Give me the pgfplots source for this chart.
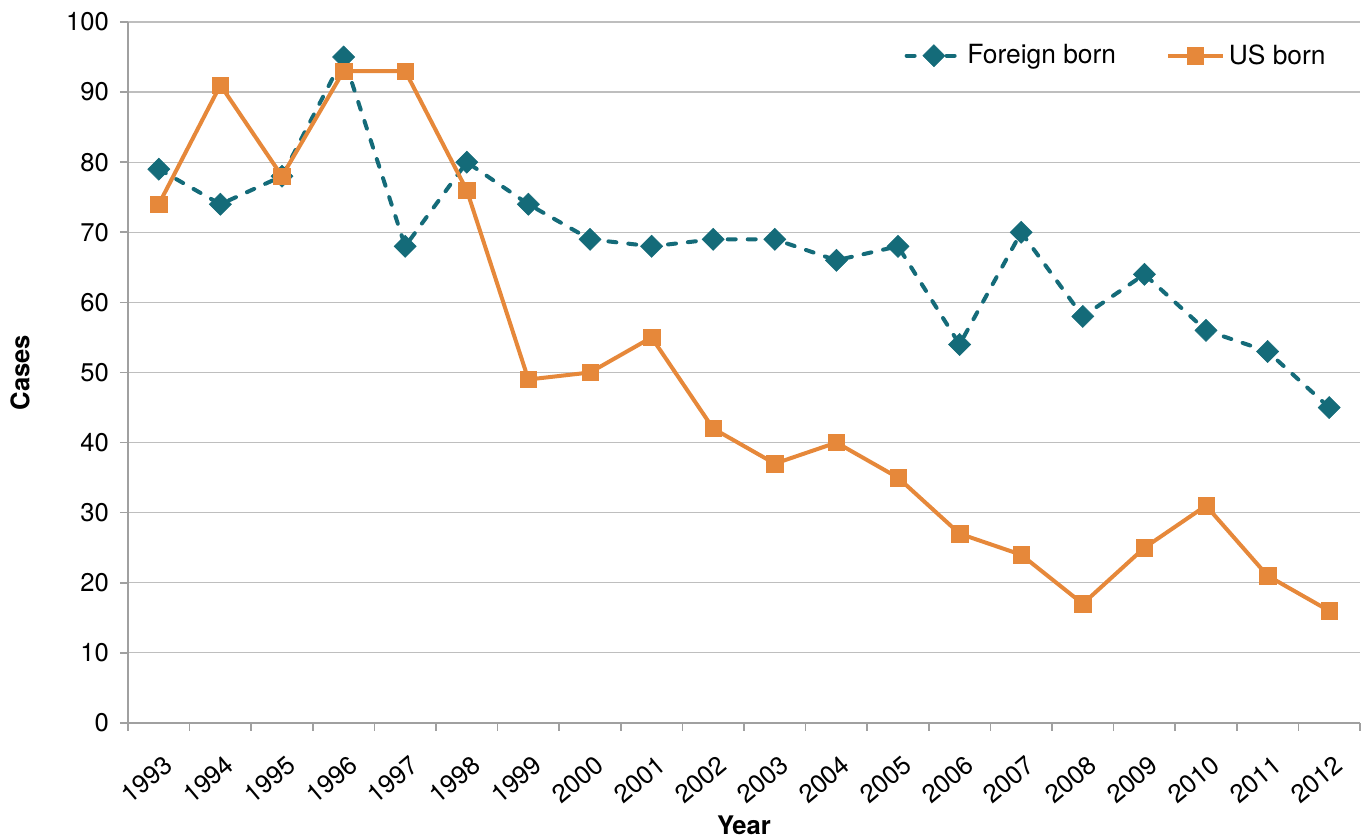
\documentclass[border=0pt]{standalone}
\usepackage{pgfplots}
\pgfplotsset{compat=1.18}
\usepackage{fontspec}
\setmainfont{TeX Gyre Heros}
\usetikzlibrary{plotmarks}
\definecolor{teal1}{HTML}{146B79}
\definecolor{orange1}{HTML}{E6883A}
\definecolor{gridc}{HTML}{BEBEBE}
\definecolor{axc}{HTML}{A0A0A0}
\begin{document}
\begin{tikzpicture}
\useasboundingbox (-64pt,-57.5pt) rectangle (618.5pt,361.5pt);
\begin{axis}[
  at={(0,0)}, anchor=south west,
  scale only axis, width=616pt, height=350.5pt,
  xmin=-0.5, xmax=19.5, ymin=0, ymax=100,
  ytick={0,10,...,100},
  xtick={0,...,19},
  xticklabels={1993,1994,1995,1996,1997,1998,1999,2000,2001,2002,2003,2004,2005,2006,2007,2008,2009,2010,2011,2012},
  minor xtick={-0.5,0.5,...,19.5},
  major x tick style={draw=none},
  minor x tick style={draw=axc, line width=0.8pt},
  y tick style={draw=axc, line width=0.8pt},
  tick align=outside,
  minor tick length=4pt, major tick length=4pt,
  axis x line*=bottom, axis y line*=left,
  axis line style={draw=axc, line width=0.8pt, -},
  ymajorgrids, grid style={draw=gridc, line width=0.6pt},
  font=\fontsize{12.8}{15}\selectfont,
  /pgf/number format/assume math mode=true,
  xticklabel style={rotate=40, anchor=north east, yshift=-6.5pt, xshift=-2.5pt},
  yticklabel style={xshift=-2pt},
  xlabel={\bfseries Year}, ylabel={\bfseries Cases},
  xlabel style={at={(0.5,0)}, anchor=center, yshift=-51pt},
  ylabel style={at={(0,0.5)}, anchor=center, yshift=54pt},
  legend columns=2,
  legend style={draw=none, fill=none, at={(1,1)}, anchor=north east, xshift=-12pt, yshift=-7pt,
     /tikz/every even column/.append style={column sep=23pt}, font=\fontsize{13.2}{15}\selectfont},
  legend cell align=left,
  legend image code/.code={\draw[mark repeat=2,mark phase=2,#1] plot coordinates {(0cm,0cm)(0.48cm,0cm)(0.96cm,0cm)};},
  clip=false,
]
\addplot[teal1, line width=2pt, line cap=round, dash pattern=on 4pt off 6pt,
  mark=square*, mark size=3.9pt, mark options={solid, rotate=45, fill=teal1, draw=teal1, line width=0.3pt}]
  coordinates {(0,79)(1,74)(2,78)(3,95)(4,68)(5,80)(6,74)(7,69)(8,68)(9,69)(10,69)(11,66)(12,68)(13,54)(14,70)(15,58)(16,64)(17,56)(18,53)(19,45)};
\addlegendentry{Foreign born}
\addplot[orange1, line width=2pt,
  mark=square*, mark size=4.1pt, mark options={solid, fill=orange1, draw=orange1, line width=0.3pt}]
  coordinates {(0,74)(1,91)(2,78)(3,93)(4,93)(5,76)(6,49)(7,50)(8,55)(9,42)(10,37)(11,40)(12,35)(13,27)(14,24)(15,17)(16,25)(17,31)(18,21)(19,16)};
\addlegendentry{US born}
\end{axis}
\end{tikzpicture}
\end{document}
